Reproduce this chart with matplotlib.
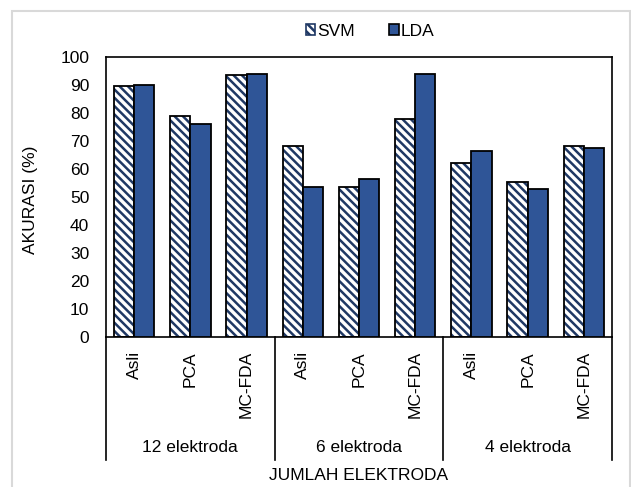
import numpy as np
import matplotlib.pyplot as plt
from matplotlib.patches import Patch, Rectangle
import matplotlib.transforms as mtransforms

plt.rcParams['font.family'] = ['Liberation Sans', 'DejaVu Sans']
plt.rcParams['hatch.linewidth'] = 1.8

# Data
metode = ['Asli', 'PCA', 'MC-FDA'] * 3
kelompok = ['12 elektroda', '6 elektroda', '4 elektroda']
svm = [89.6, 78.8, 93.6, 68.2, 53.4, 78.0, 62.2, 55.4, 68.2]
lda = [90.1, 76.0, 93.9, 53.4, 56.4, 93.9, 66.4, 53.0, 67.6]

c_lda = '#2F5597'
c_hatch = '#1F3864'
fs = 12.5
pola = '\\' * 4

fig = plt.figure(figsize=(6.31, 4.87), dpi=100)
ax = fig.add_axes([106 / 631, 1 - 337 / 487, (612 - 106) / 631, 280 / 487])

x = np.arange(len(metode))
w = 0.36
# SVM: hatched white bars, then black outline on top
ax.bar(x - w / 2, svm, w, color='white', edgecolor=c_hatch, hatch=pola, linewidth=0, zorder=2)
ax.bar(x - w / 2, svm, w, fill=False, edgecolor='black', linewidth=1.3, zorder=3)
ax.bar(x + w / 2, lda, w, color=c_lda, edgecolor='black', linewidth=1.3, zorder=3)

ax.set_xlim(-0.5, 8.5)
ax.set_ylim(0, 100)
ax.set_yticks(range(0, 101, 10))
ax.tick_params(axis='y', length=0, labelsize=fs, pad=12)
ax.set_xticks([])
for s in ax.spines.values():
    s.set_linewidth(1.2)

# category labels (two levels)
trans = mtransforms.blended_transform_factory(ax.transData, ax.transAxes)
for xi, m in zip(x, metode):
    ax.text(xi, -0.05, m, rotation=90, ha='center', va='top', fontsize=fs, transform=trans)
for i, g in enumerate(kelompok):
    ax.text(3 * i + 1, -0.393, g, ha='center', va='center', fontsize=fs, transform=trans)
for xb in [-0.5, 2.5, 5.5, 8.5]:
    ax.plot([xb, xb], [0, -0.44], color='black', lw=1.2, transform=trans, clip_on=False)

fig.text(359 / 631, 1 - 475 / 487, 'JUMLAH ELEKTRODA', ha='center', va='center', fontsize=fs)
fig.text(30 / 631, 1 - 200 / 487, 'AKURASI (%)', rotation=90, ha='center', va='center', fontsize=fs)

handles = [Patch(facecolor='white', edgecolor=c_hatch, hatch=pola, linewidth=1.2),
           Patch(facecolor=c_lda, edgecolor='black', linewidth=1.2)]
fig.legend(handles, ['SVM', 'LDA'], loc='center', bbox_to_anchor=(370 / 631, 1 - 31 / 487),
           ncol=2, frameon=False, fontsize=fs, handlelength=0.55, handleheight=0.55,
           handletextpad=0.1, columnspacing=2.0)

fig.patches.append(Rectangle((12 / 631, -0.05), 618 / 631, 1.05 - 11 / 487, transform=fig.transFigure,
                             fill=False, edgecolor='#d9d9d9', linewidth=1.5))

fig.savefig('out.png', dpi=100)
